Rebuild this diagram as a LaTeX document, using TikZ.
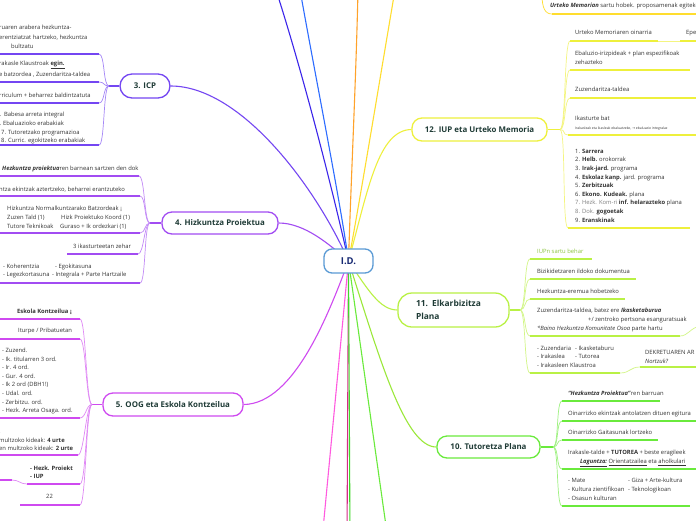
\documentclass[tikz,border=0pt]{standalone}
\usepackage{fontspec}
\setmainfont{Open Sans}
\newfontfamily\dejavu{DejaVu Sans}
\usetikzlibrary{calc}
\pgfdeclarelayer{bg}
\pgfsetlayers{bg,main}
\definecolor{cicp}{HTML}{7446F2}
\definecolor{chiz}{HTML}{A24CF2}
\definecolor{coog}{HTML}{CF4AF0}
\definecolor{ciup}{HTML}{EEF03C}
\definecolor{ctopy}{HTML}{FFDD2E}
\definecolor{corg}{HTML}{FFA22A}
\definecolor{cdbl}{HTML}{3B25EA}
\definecolor{cbl}{HTML}{2D6CFF}
\definecolor{celk}{HTML}{B9F145}
\definecolor{celkt}{HTML}{8CC63F}
\definecolor{ctut}{HTML}{6AEA3C}
\definecolor{ctutc}{HTML}{9BE83A}
\definecolor{cpink}{HTML}{FF5ADF}
\definecolor{cdpk}{HTML}{D72A86}
\definecolor{cgrn}{HTML}{3FD92A}
\definecolor{cid}{HTML}{5B9BD5}
\definecolor{cttl}{HTML}{1F3B36}
\definecolor{ctxt}{HTML}{333333}
\newcounter{tn}
\newcommand\mmt[3]{\stepcounter{tn}\node[txt,anchor=west] (t\thetn) at (#1,#2) {#3};}
\newcommand\kidL[5]{%
  \draw[cv,#1!65] (#2) .. controls +(-6,0) and +(6,0) .. (#3,#4);
  \draw[ul,#1] (#3,#4) -- (#5,#4);}
\newcommand\kidR[5]{%
  \draw[cv,#1!65] (#2) .. controls +(6,0) and +(-6,0) .. (#3,#4);
  \draw[ul,#1] (#3,#4) -- (#5,#4);}
\tikzset{
  txt/.style={inner sep=0pt, font=\fontsize{5.85}{7}\selectfont, text=ctxt, text height=4pt, text depth=1.3pt},
  ttl/.style={draw, line width=1.3pt, rounded corners=10pt, fill=white, font=\fontsize{7.9}{9.5}\selectfont\bfseries, text=cttl, inner sep=0pt},
  ul/.style={line width=1.4pt},
  cv/.style={line width=0.7pt},
  conn/.style={line width=1.1pt},
}
\begin{document}
\begin{tikzpicture}[x=1pt,y=-1pt]
\useasboundingbox (0,0) rectangle (696,520);
\clip (0,0) rectangle (696,520);

% main nodes
\node[ttl, draw=cid, minimum width=49pt, minimum height=24pt, rounded corners=8pt, font=\fontsize{9.5}{10}\selectfont\bfseries, text=cttl!70!blue] (id) at (348.5,261) {I.D.};
\node[ttl, draw=cicp, minimum width=50pt, minimum height=24pt, rounded corners=12pt] (icp) at (145,86) {3. ICP};
\node[ttl, draw=chiz, minimum width=116pt, minimum height=22pt] (hiz) at (220,223) {4. Hizkuntza Proiektua};
\node[ttl, draw=coog, minimum width=140pt, minimum height=23pt] (oog) at (173,404.5) {5. OOG eta Eskola Kontzeilua};
\node[ttl, draw=ciup, minimum width=135pt, minimum height=23pt] (iup) at (479.5,129.5) {12. IUP eta Urteko Memoria};
\node[ttl, draw=celk, minimum width=111pt, minimum height=34pt, text width=75pt, align=left, rounded corners=14pt, font=\fontsize{8.4}{13}\selectfont\bfseries] (elk) at (453.5,310) {11. Elkarbizitza\\Plana};
\node[ttl, draw=ctut, minimum width=103pt, minimum height=22pt] (tut) at (488.5,447) {10. Tutoretza Plana};

\begin{pgfonlayer}{bg}
\clip (0,0) rectangle (696,520);
\fill[white] (0,0) rectangle (696,520);
% connectors from the centre
\draw[conn,cdbl] (id.center) .. controls (335,200) and (305,80) .. (276,-10);
\draw[conn,cbl] (id.center) .. controls (340,200) and (318,90) .. (300,-10);
\draw[conn,corg] (id.center) .. controls (351,180) and (356,80) .. (358,-10);
\draw[conn,ctopy] (id.center) .. controls (360,200) and (378,90) .. (395,-10);
\draw[conn,ciup] (id.center) .. controls (368,190) and (378,130) .. (iup.west);
\draw[conn,cicp] (icp.east) .. controls (240,86) and (315,185) .. (id.center);
\draw[conn,chiz] (hiz.east) .. controls (305,223) and (330,245) .. (id.center);
\draw[conn,coog] (oog.east) .. controls (295,404) and (330,310) .. (id.center);
\draw[conn,celk] (id.center) .. controls (368,290) and (380,310) .. (elk.west);
\draw[conn,ctutc] (id.center) .. controls (380,360) and (405,447) .. (tut.west);
\draw[conn,cpink] (id.center) -- (322,540);
\draw[conn,cdpk] (id.center) -- (347,540);
\draw[conn,cgrn] (id.center) -- (350,540);
\draw[conn,ctut] (id.center) -- (388,540);

% 3. ICP children
\coordinate (f3) at (109,86);
\draw[conn,cicp] (icp.west) -- (f3);
\kidL{cicp}{f3}{99}{54}{-2}
\kidL{cicp}{f3}{99}{82}{-2}
\kidL{cicp}{f3}{99}{103}{-2}
\kidL{cicp}{f3}{99}{145}{-2}

% 4. Hizkuntza children
\coordinate (f4) at (150,223);
\draw[conn,chiz] (hiz.west) -- (f4);
\kidL{chiz}{f4}{139}{176}{-2}
\kidL{chiz}{f4}{140}{196}{-2}
\kidL{chiz}{f4}{140}{233}{-2}
\kidL{chiz}{f4}{138}{254}{67}
\kidL{chiz}{f4}{140}{283}{-2}

% 5. OOG children
\coordinate (f5) at (92,404.5);
\draw[conn,coog] (oog.west) -- (f5);
\kidL{coog}{f5}{80}{319}{-2}
\kidL{coog}{f5}{80}{339}{-2}
\kidL{coog}{f5}{80}{418}{-2}
\kidL{coog}{f5}{78}{455}{-2}
\kidL{coog}{f5}{80}{484}{27}
\kidL{coog}{f5}{80}{505}{20}
\coordinate (g5) at (27,484);
\draw[cv,coog!65] (g5) .. controls +(-7,0) and +(7,0) .. (12,480);
\draw[ul,coog] (12,480) -- (-2,480);

% 12. IUP children
\coordinate (f12) at (560,129.5);
\draw[conn,ciup] (iup.east) -- (f12);
\kidR{ciup}{f12}{570}{41}{658}
\draw[cv,ciup!65] (658,41) -- (680,41);
\draw[ul,ciup] (680,41) -- (700,41);
\kidR{ciup}{f12}{570}{70}{690}
\kidR{ciup}{f12}{570}{98}{700}
\kidR{ciup}{f12}{568}{135}{700}
\kidR{ciup}{f12}{568}{228}{690}
% top yellow child
\coordinate (ty) at (542,-6);
\draw[cv,ctopy] (ty) .. controls (542,8) and (545,14) .. (552,14);
\draw[ul,ctopy] (552,14) -- (700,14);

% 11. Elkarbizitza children
\coordinate (f11) at (520,310);
\draw[conn,celk] (elk.east) -- (f11);
\kidR{celk}{f11}{530}{259}{592}
\kidR{celk}{f11}{530}{279}{636}
\kidR{celk}{f11}{530}{299}{625}
\kidR{celk}{f11}{530}{336}{680}
\draw[cv,celk!65] (680,336) .. controls (688,336) and (690,328) .. (700,326);
\kidR{celk}{f11}{530}{373}{620}
\draw[cv,celk!65] (620,373) .. controls (630,373) and (630,367) .. (640,367);
\draw[ul,celk] (640,367) -- (700,367);

% 10. Tutoretza children
\coordinate (f10) at (553,447);
\draw[conn,ctut] (tut.east) -- (f10);
\kidR{ctut}{f10}{562}{401}{660}
\kidR{ctut}{f10}{562}{421}{700}
\kidR{ctut}{f10}{562}{440}{658}
\kidR{ctut}{f10}{562}{469}{700}
\kidR{ctut}{f10}{562}{506}{690}
\end{pgfonlayer}

% texts: 3. ICP
\mmt{-1}{28}{ruaren arabera hezkuntza-}
\mmt{-1}{38}{erentziatzat hartzeko, hezkuntza}
\mmt{11}{47}{bultzatu}
\mmt{-1}{64}{rakasle Klaustroak \textbf{\underline{egin.}}}
\mmt{-1}{75}{e batzordea , Zuzendaritza-taldea}
\mmt{-1}{96}{rriculum + beharrez baldintzatuta}
\mmt{-4}{115}{5.\ \ Babesa arreta integral}
\mmt{-4}{124}{6. Ebaluazioko erabakiak}
\mmt{1}{133}{7. Tutoretzako programazioa}
\mmt{1}{141}{8. Curric. egokitzeko erabakiak}

% texts: 4. Hizkuntza
\mmt{2}{169}{\textbf{\textit{Hezkuntza proiektua}}ren barnean sartzen den dok}
\mmt{-1}{190}{ntza ekintzak aztertzeko, beharrei erantzuteko}
\mmt{7}{209}{Hizkuntza Normalkuntzarako Batzordeak ¡}
\mmt{7}{218}{Zuzen Tald (1)}
\mmt{61}{218}{Hizk Proiektuko Koord (1)}
\mmt{7}{227}{Tutore Teknikoak}
\mmt{60}{227}{Guraso + Ik ordezkari (1)}
\mmt{73}{247}{3 ikasturteetan zehar}
\mmt{3}{267}{- Koherentzia}
\mmt{55}{267}{- Egokitasuna}
\mmt{3}{275}{- Legezkortasuna}
\mmt{52}{275}{- Integrala + Parte Hartzaile}

% texts: 5. OOG
\mmt{17}{312}{\textbf{Eskola Kontzeilua ¡}}
\mmt{18}{331}{Iturpe / Pribatuetan}
\mmt{2}{351}{- Zuzend.}
\mmt{2}{360}{- Ik. titularren 3 ord.}
\mmt{2}{368}{- Ir. 4 ord.}
\mmt{2}{377}{- Gur. 4 ord.}
\mmt{2}{385}{- Ik 2 ord (DBH1!)}
\mmt{2}{394}{- Udal. ord.}
\mmt{2}{403}{- Zerbitzu. ord.}
\mmt{2}{411}{- Hezk. Arreta Osaga. ord.}
\mmt{-1}{432}{.}
\mmt{-1}{441}{multzoko kideak: \textbf{4 urte}}
\mmt{-1}{449}{en multzoko kideak: \textbf{2 urte}}
\mmt{30}{469}{\textbf{- Hezk. Proiekt}}
\mmt{30}{477}{\textbf{- IUP}}
\mmt{46}{497}{22}

% texts: 12. IUP
\mmt{550}{6}{\textbf{\textit{Urteko Memorian}} sartu hobek. proposamenak egiteko}
\mmt{575}{33}{Urteko Memoriaren oinarria}
\mmt{686}{33}{Epe}
\mmt{575}{54}{Ebaluzio-irizpideak + plan espezifikoak}
\mmt{575}{63}{zehazteko}
\mmt{575}{90}{Zuzendaritza-taldea}
\mmt{575}{119}{Ikasturte bat}
\stepcounter{tn}\node[txt, anchor=west, font=\fontsize{3.4}{4}\selectfont] (t\thetn) at (575,128) {Irakasleak eta ikasleak ebaluatzeko, {\dejavu →} ebaluazio integralaz};
\mmt{575}{152}{1. \textbf{Sarrera}}
\mmt{575}{160}{2. \textbf{Helb.} orokorrak}
\mmt{575}{169}{3. \textbf{Irak-jard.} programa}
\mmt{575}{178}{4. \textbf{Eskolaz kanp.} jard. programa}
\mmt{575}{186}{5. \textbf{Zerbitzuak}}
\mmt{575}{195}{6. \textbf{Ekono. Kudeak.} plana}
\mmt{575}{203}{\textcolor{gray}{7. Hezk. Kom-ri} \textbf{inf. helarazteko} plana}
\mmt{575}{212}{\textcolor{gray}{8. Dok.} \textbf{gogoetak}}
\mmt{575}{221}{9. \textbf{Eranskinak}}

% texts: 11. Elkarbizitza
\mmt{537}{252}{\textcolor{celkt}{IUPn sartu behar}}
\mmt{537}{272}{Bizikidetzaren ildoko dokumentua}
\mmt{537}{292}{Hezkuntza-eremua hobetzeko}
\mmt{537}{311}{Zuzendaritza-taldea, batez ere \textbf{\textit{Ikasketaburua}}}
\mmt{588}{320}{+/ zentroko pertsona esanguratsuak}
\mmt{537}{329}{\textit{*Baino Hezkuntza Komunitate Osoa} parte hartu}
\mmt{537}{349}{- Zuzendaria}
\mmt{575}{349}{- Ikasketaburu}
\mmt{537}{357}{- Irakaslea}
\mmt{575}{357}{- Tutorea}
\mmt{537}{366}{- Irakasleen Klaustroa}
\mmt{645}{353}{DEKRETUAREN AR}
\mmt{645}{362}{\textit{Nortzuk?}}

% texts: 10. Tutoretza
\mmt{568}{394}{\textbf{\textit{“Hezkuntza Proiektua”}}ren barruan}
\mmt{568}{414}{Oinarrizko ekintzak antolatzen dituen egitura}
\mmt{568}{433}{Oinarrizko Gaitasunak lortzeko}
\mmt{568}{453}{Irakasle-talde + \textbf{TUTOREA} + beste eragileek}
\mmt{580}{462}{\textbf{\textit{\underline{Laguntza:}}} \underline{Orientatzailea} eta \underline{aholkulari}}
\mmt{568}{481}{- Mate}
\mmt{628}{481}{- Giza + Arte-kultura}
\mmt{568}{490}{- Kultura zientifikoan}
\mmt{628}{490}{- Teknologikoan}
\mmt{568}{499}{- Osasun kulturan}
\end{tikzpicture}
\end{document}
